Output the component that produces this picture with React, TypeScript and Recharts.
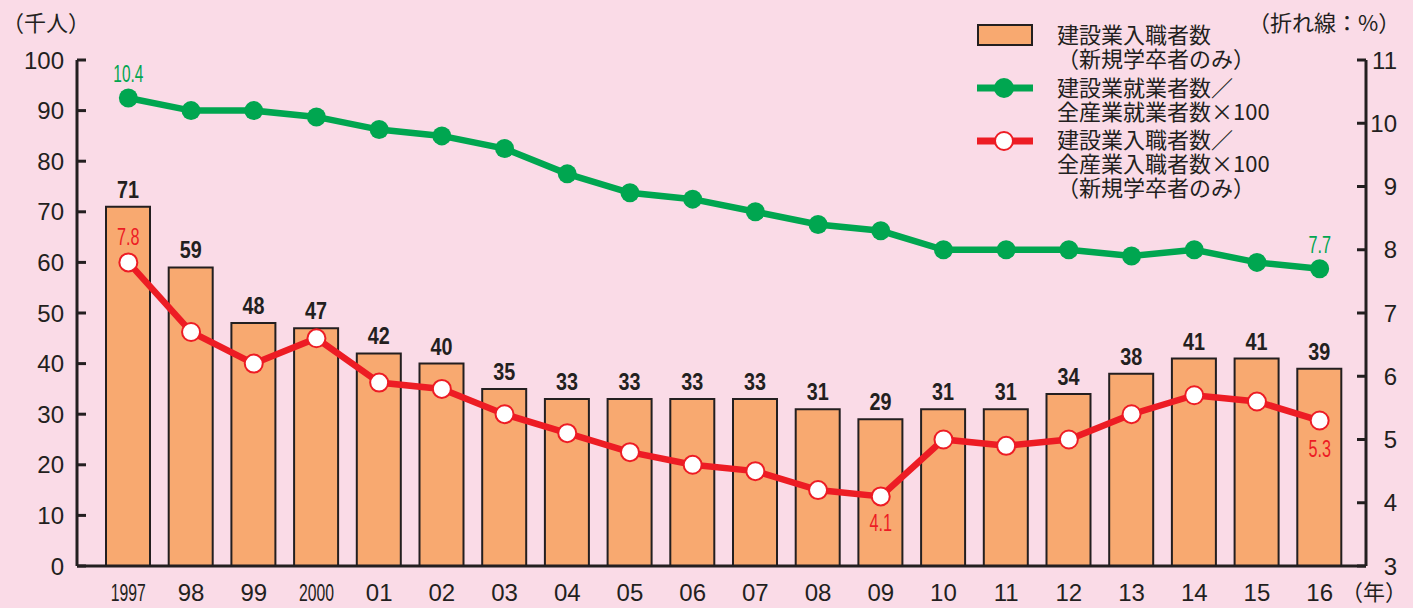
import React from "react";
import {
  ComposedChart,
  Bar,
  Line,
  XAxis,
  YAxis,
  LabelList,
} from "recharts";

const years = ["1997", "98", "99", "2000", "01", "02", "03", "04", "05", "06", "07", "08", "09", "10", "11", "12", "13", "14", "15", "16"];
// 建設業入職者数（新規学卒者のみ）千人
const hires = [71, 59, 48, 47, 42, 40, 35, 33, 33, 33, 33, 31, 29, 31, 31, 34, 38, 41, 41, 39];
// 建設業就業者数／全産業就業者数×100
const empShare = [10.4, 10.2, 10.2, 10.1, 9.9, 9.8, 9.6, 9.2, 8.9, 8.8, 8.6, 8.4, 8.3, 8.0, 8.0, 8.0, 7.9, 8.0, 7.8, 7.7];
// 建設業入職者数／全産業入職者数×100（新規学卒者のみ）
const hireShare = [7.8, 6.7, 6.2, 6.6, 5.9, 5.8, 5.4, 5.1, 4.8, 4.6, 4.5, 4.2, 4.1, 5.0, 4.9, 5.0, 5.4, 5.7, 5.6, 5.3];

const leftTicks = [0, 10, 20, 30, 40, 50, 60, 70, 80, 90, 100];
const rightTicks = [3, 4, 5, 6, 7, 8, 9, 10, 11];

const data = years.map((year, i) => ({
  year,
  hires: hires[i],
  empShare: empShare[i],
  hireShare: hireShare[i],
}));

const BG = "#fadbe7";
const INK = "#231f20";
const ORANGE = "#f8a970";
const GREEN = "#00a650";
const RED = "#ed1c24";
const NUM_FONT = "'Liberation Sans', Arial, sans-serif";
const NARROW_FONT = "'Liberation Sans Narrow', 'Liberation Sans', Arial, sans-serif";
const JP_FONT = "'Noto Sans CJK JP', sans-serif";

const LeftTick = (props: any) => {
  const { x, y, payload } = props;
  return (
    <g>
      <line x1={x + 13} x2={x + 22} y1={y} y2={y} stroke={INK} strokeWidth={3} />
      <text x={x} y={y} dy="0.36em" textAnchor="end" fontSize={24} fontFamily={NUM_FONT} fill={INK}>
        {payload.value}
      </text>
    </g>
  );
};

const RightTick = (props: any) => {
  const { x, y, payload } = props;
  return (
    <g>
      <line x1={x - 31} x2={x - 40} y1={y} y2={y} stroke={INK} strokeWidth={3} />
      <text x={x} y={y} dy="0.36em" textAnchor="end" fontSize={24} fontFamily={NUM_FONT} fill={INK}>
        {payload.value}
      </text>
    </g>
  );
};

const YearTick = (props: any) => {
  const { x, y, payload } = props;
  const v = String(payload.value);
  const long = v.length === 4;
  return (
    <text
      x={x}
      y={y}
      dy={35}
      textAnchor="middle"
      fontSize={24}
      fontFamily={NUM_FONT}
      fill={INK}
      {...(long ? { textLength: 35, lengthAdjust: "spacingAndGlyphs" } : {})}
    >
      {v}
    </text>
  );
};

const BarLabel = (props: any) => {
  const { x, y, width, value } = props;
  return (
    <text
      x={x + width / 2}
      y={y - 9}
      textAnchor="middle"
      fontSize={23}
      fontWeight="bold"
      fontFamily={NARROW_FONT}
      fill={INK}
      textLength={22}
      lengthAdjust="spacingAndGlyphs"
    >
      {value}
    </text>
  );
};

const makeLineLabel = (color: string, show: Record<number, number>) => (props: any) => {
  const { index, value } = props;
  const vb = props.viewBox || {};
  const x = props.x ?? vb.x;
  const y = props.y ?? vb.y;
  if (show[index] === undefined || x === undefined) return null;
  const txt = String(value);
  return (
    <text
      x={x}
      y={y + show[index]}
      textAnchor="middle"
      fontSize={23}
      fontFamily={NARROW_FONT}
      fill={color}
      textLength={txt.length * 7.5}
      lengthAdjust="spacingAndGlyphs"
    >
      {txt}
    </text>
  );
};

const greenLabel = makeLineLabel(GREEN, { 0: -16, 19: -16 });
const redLabel = makeLineLabel(RED, { 0: -17, 12: 35, 19: 36 });

const Overlay = () => (
  <svg width={1413} height={608} style={{ position: "absolute", left: 0, top: 0, pointerEvents: "none" }}>
    <g fontFamily={JP_FONT} fontSize={22} fill={INK}>
      <text x={2} y={31}>（千人）</text>
      <text x={1248} y={31}>（折れ線：%）</text>
      <text x={1341} y={600}>（年）</text>

      <rect x={978} y={25} width={54} height={20} fill={ORANGE} stroke={INK} strokeWidth={2} />
      <text x={1057} y={43}>建設業入職者数</text>
      <text x={1057} y={67}>（新規学卒者のみ）</text>

      <line x1={977} x2={1033} y1={88} y2={88} stroke={GREEN} strokeWidth={7} />
      <circle cx={1004} cy={88} r={10} fill={GREEN} />
      <text x={1057} y={96}>建設業就業者数／</text>
      <text x={1057} y={120}>全産業就業者数×100</text>

      <line x1={977} x2={1033} y1={141} y2={141} stroke={RED} strokeWidth={7} />
      <circle cx={1004} cy={141} r={9} fill="#fff" stroke={RED} strokeWidth={2} />
      <text x={1057} y={148}>建設業入職者数／</text>
      <text x={1057} y={172}>全産業入職者数×100</text>
      <text x={1057} y={196}>（新規学卒者のみ）</text>
    </g>
  </svg>
);

export default function App() {
  return (
    <div style={{ position: "absolute", left: 0, top: 0, width: 1413, height: 608, background: BG, overflow: "hidden" }}>
      <ComposedChart width={1413} height={608} data={data} margin={{ top: 60, right: 0, bottom: 0, left: 0 }}>
        <XAxis
          dataKey="year"
          height={42}
          padding={{ left: 20, right: 15 }}
          axisLine={{ stroke: INK, strokeWidth: 3 }}
          tickLine={false}
          tickSize={0}
          tickMargin={0}
          tick={<YearTick />}
          interval={0}
        />
        <YAxis
          yAxisId="left"
          orientation="left"
          width={77}
          domain={[0, 100]}
          ticks={leftTicks}
          interval={0}
          axisLine={{ stroke: INK, strokeWidth: 3 }}
          tickLine={false}
          tickSize={0}
          tickMargin={13}
          tick={<LeftTick />}
        />
        <YAxis
          yAxisId="right"
          orientation="right"
          width={47}
          domain={[3, 11]}
          ticks={rightTicks}
          interval={0}
          axisLine={{ stroke: INK, strokeWidth: 3 }}
          tickLine={false}
          tickSize={0}
          tickMargin={31}
          tick={<RightTick />}
        />
        <Bar yAxisId="left" dataKey="hires" barSize={44} fill={ORANGE} stroke={INK} strokeWidth={2} isAnimationActive={false}>
          <LabelList dataKey="hires" content={<BarLabel />} />
        </Bar>
        <Line
          yAxisId="right"
          dataKey="empShare"
          stroke={GREEN}
          strokeWidth={6.5}
          dot={{ r: 9.5, fill: GREEN, stroke: GREEN, strokeWidth: 0 }}
          isAnimationActive={false}
        >
          <LabelList dataKey="empShare" content={greenLabel} />
        </Line>
        <Line
          yAxisId="right"
          dataKey="hireShare"
          stroke={RED}
          strokeWidth={6.5}
          dot={{ r: 9, fill: "#fff", stroke: RED, strokeWidth: 2 }}
          isAnimationActive={false}
        >
          <LabelList dataKey="hireShare" content={redLabel} />
        </Line>
      </ComposedChart>
      <Overlay />
    </div>
  );
}
